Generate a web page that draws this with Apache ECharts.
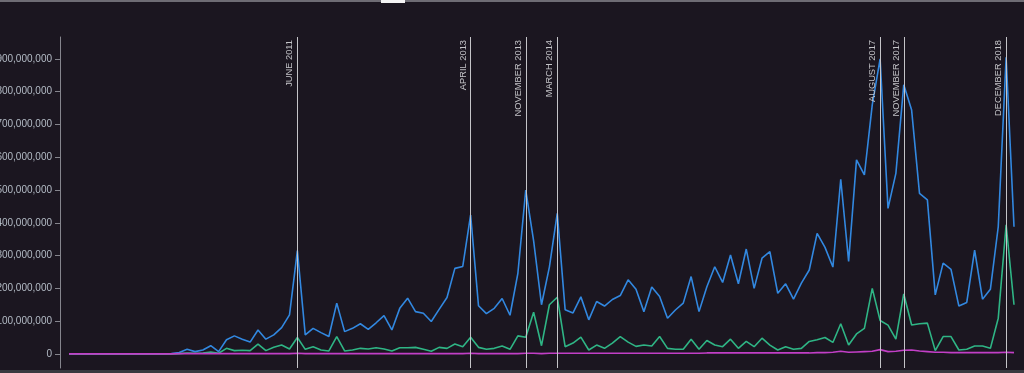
<!DOCTYPE html>
<html><head><meta charset="utf-8">
<script src="https://cdn.jsdelivr.net/npm/echarts@6/dist/echarts.min.js"></script>
<style>html,body{margin:0;padding:0;background:#1b1620;overflow:hidden}#c{width:1024px;height:373px}</style>
</head><body><div id="c"></div>
<script>
// Monthly categories: Jan 2009 .. Jan 2019
const monthNames = ['JANUARY','FEBRUARY','MARCH','APRIL','MAY','JUNE','JULY','AUGUST','SEPTEMBER','OCTOBER','NOVEMBER','DECEMBER'];
const years = [2009,2010,2011,2012,2013,2014,2015,2016,2017,2018,2019];
const categories = [];
years.forEach(y => monthNames.forEach((m, k) => { if (y < 2019 || k === 0) categories.push(m + ' ' + y); }));

// values in millions
const seriesBlue = [
  0,0,0,0,0,0,0,0,0,0,0,0,0,1,4,14,7,12,25,7,
  43,55,45,36,73,45,58,80,119,315,58,78,65,53,155,68,78,92,75,95,
  117,73,139,170,129,124,99,136,172,261,267,424,147,123,139,169,118,246,500,345,
  150,265,429,135,125,174,104,160,146,166,178,226,197,129,204,175,109,134,155,236,
  129,205,266,218,302,214,320,200,292,312,185,214,167,216,256,368,325,265,533,282,
  592,546,760,900,444,551,821,744,490,470,180,277,258,146,157,317,167,197,388,905,
  388
];
const seriesGreen = [
  0,0,0,0,0,0,0,0,0,0,0,0,0,0,1,3,2,3,6,2,
  17,10,11,10,30,10,20,27,15,50,14,22,12,9,53,9,12,17,15,19,
  15,9,19,19,20,14,8,20,17,30,22,51,20,14,17,24,14,55,51,127,
  25,150,173,22,33,51,12,27,17,33,53,36,23,27,24,53,17,14,14,45,
  14,41,27,22,45,17,38,22,48,27,12,22,14,17,38,43,50,35,92,27,
  61,78,200,102,88,45,183,88,92,94,10,53,53,12,14,24,24,17,109,394,
  150
];
const seriesMagenta = [
  0,0,0,0,0,0,0,0,0,0,0,0,0,0,1,1,1,1,1,1,
  1,1,1,1,1,1,1,1,1,2,1,1,1,1,1,1,1,1,1,1,
  1,1,1,1,1,1,1,1,1,1,1,2,1,1,1,1,1,1,2,2,
  1,2,2,2,2,2,2,2,2,2,2,2,2,2,2,2,2,2,2,2,
  2,3,3,3,3,3,3,3,3,3,3,3,3,3,3,4,4,5,8,5,
  6,7,8,13,7,8,11,12,9,7,5,5,4,4,4,4,4,4,4,5,
  4
];
const events = ['JUNE 2011','APRIL 2013','NOVEMBER 2013','MARCH 2014','AUGUST 2017','NOVEMBER 2017','DECEMBER 2018'];
const yTicks = [0,100,200,300,400,500,600,700,800,900];

const chart = echarts.init(document.getElementById('c'), null, {renderer:'canvas'});
const font = 'Liberation Sans, Arial, sans-serif';
const mkLine = (name, data, color, extra) => Object.assign({
  name, type:'line', data, showSymbol:false, symbol:'none', smooth:false,
  lineStyle:{color, width:1.6}, itemStyle:{color}, animation:false, z:2
}, extra || {});

chart.setOption({
  backgroundColor:'#1b1620',
  animation:false,
  grid:{left:69, right:10, top:37, bottom:5, containLabel:false, outerBoundsMode:'none'},
  xAxis:{type:'category', data:categories, boundaryGap:false, show:false},
  yAxis:{
    type:'value', min:-43, max:967, offset:9,
    axisLine:{show:true, lineStyle:{color:'#85858d', width:1}},
    axisTick:{show:true, length:5, lineStyle:{color:'#85858d'}, customValues:yTicks},
    axisLabel:{customValues:yTicks, margin:8, color:'#b4bcc6', fontSize:10, fontFamily:font,
      formatter:v => (v*1e6).toLocaleString('en-US')},
    splitLine:{show:false}
  },
  series:[
    mkLine('blue', seriesBlue, '#3288e0', {
      markLine:{
        silent:true, symbol:['none','none'], animation:false,
        lineStyle:{color:'#c4c4c8', width:1, type:'solid'},
        label:{show:true, position:'insideEndTop', formatter:'{b}', color:'#c4c4c8', fontSize:9.3, fontFamily:font, distance:3},
        emphasis:{disabled:true},
        data: events.map(e => ({name:e, xAxis:e}))
      }
    }),
    mkLine('green', seriesGreen, '#2fb585'),
    mkLine('magenta', seriesMagenta, '#c23fc6')
  ],
  graphic:[
    {type:'rect', shape:{x:0,y:0,width:1024,height:2}, style:{fill:'#6e6c74'}, silent:true},
    {type:'rect', shape:{x:381,y:0,width:24,height:3}, style:{fill:'#f4f4f4'}, silent:true},
    {type:'rect', shape:{x:0,y:370,width:1024,height:3}, style:{fill:'#3a3940'}, silent:true}
  ]
});
</script></body></html>
